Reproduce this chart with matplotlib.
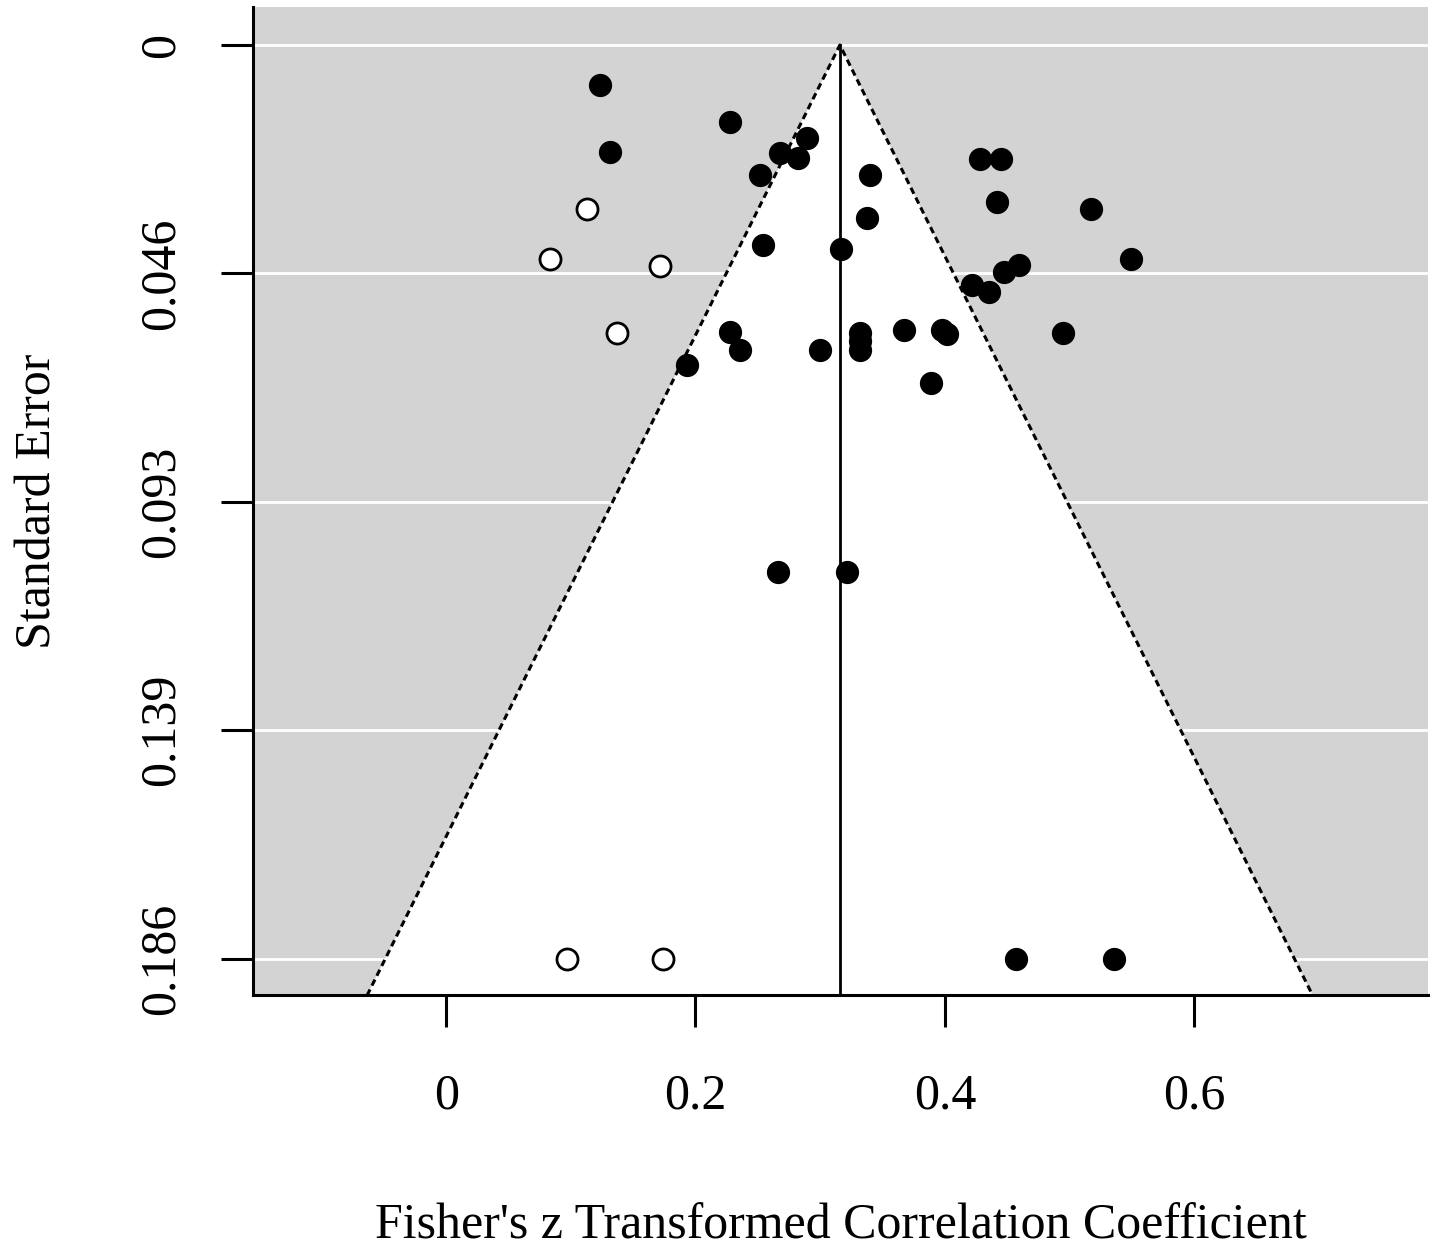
import matplotlib
matplotlib.use("Agg")
import matplotlib.pyplot as plt
import numpy as np

plt.rcParams["font.family"] = ["Liberation Serif", "DejaVu Serif"]

# observed studies (Fisher's z, standard error)
z_obs = [0.1234, 0.1314, 0.2275, 0.2892, 0.2676, 0.2820, 0.2515, 0.3397,
         0.4278, 0.4454, 0.4422, 0.5175, 0.3373, 0.2539, 0.3164, 0.5495,
         0.4598, 0.4478, 0.4214, 0.4358, 0.2275, 0.2355, 0.2996, 0.3317,
         0.3317, 0.3317, 0.3669, 0.3981, 0.4021, 0.4951, 0.1931, 0.3885,
         0.2660, 0.3212, 0.4574, 0.5359]
se_obs = [0.0082, 0.0218, 0.0157, 0.0189, 0.0220, 0.0230, 0.0265, 0.0265,
          0.0232, 0.0232, 0.0320, 0.0334, 0.0352, 0.0407, 0.0416, 0.0436,
          0.0448, 0.0462, 0.0489, 0.0503, 0.0585, 0.0621, 0.0621, 0.0587,
          0.0603, 0.0621, 0.0581, 0.0581, 0.0589, 0.0587, 0.0652, 0.0689,
          0.1072, 0.1072, 0.186, 0.186]

# imputed studies (trim and fill)
z_fill = [0.1130, 0.0833, 0.1714, 0.1370, 0.0969, 0.1738]
se_fill = [0.0334, 0.0436, 0.0450, 0.0587, 0.186, 0.186]

estimate = 0.3158
se_max = 0.186
yticks = [0, 0.0465, 0.093, 0.1395, 0.186]
ytick_labels = ["0", "0.046", "0.093", "0.139", "0.186"]
xticks = [0, 0.2, 0.4, 0.6]
xtick_labels = ["0", "0.2", "0.4", "0.6"]

fig = plt.figure(figsize=(14.37, 12.47), dpi=100)
ax = fig.add_axes([0.176, 0.2017, 0.8177, 0.7927])

ylo, yhi = -0.00774, 0.1935
xlo, xhi = -0.155, 0.7875
ax.set_xlim(xlo, xhi)
ax.set_ylim(yhi, ylo)
ax.set_facecolor("#d3d3d3")

for yt in yticks:
    ax.axhline(yt, color="white", lw=2, zorder=1)

# funnel region
half = 1.96 * yhi
ax.fill([estimate - half, estimate, estimate + half], [yhi, 0, yhi],
        color="white", zorder=2, lw=0)
ax.plot([estimate - half, estimate, estimate + half], [yhi, 0, yhi],
        color="black", lw=2.2, ls=(0, (2.2, 1.4)), zorder=3)
ax.plot([estimate, estimate], [0, yhi], color="black", lw=2, zorder=3)

ax.scatter(z_obs, se_obs, s=280, color="black", zorder=4, lw=0)
ax.scatter(z_fill, se_fill, s=230, facecolor="white", edgecolor="black",
           lw=2, zorder=4)

for side in ["top", "right"]:
    ax.spines[side].set_visible(False)
for side in ["left", "bottom"]:
    ax.spines[side].set_linewidth(2.2)

ax.set_yticks(yticks)
ax.set_yticklabels(ytick_labels, rotation=90, va="center")
ax.set_xticks(xticks)
ax.set_xticklabels(xtick_labels)
ax.tick_params(axis="both", length=23, width=2.2, labelsize=36)
ax.tick_params(axis="y", pad=26)
ax.tick_params(axis="x", pad=33)

ax.set_xlabel("Fisher's z Transformed Correlation Coefficient", fontsize=36,
              labelpad=60)
ax.set_ylabel("Standard Error", fontsize=36, labelpad=55)

plt.savefig("out.png", dpi=100)
